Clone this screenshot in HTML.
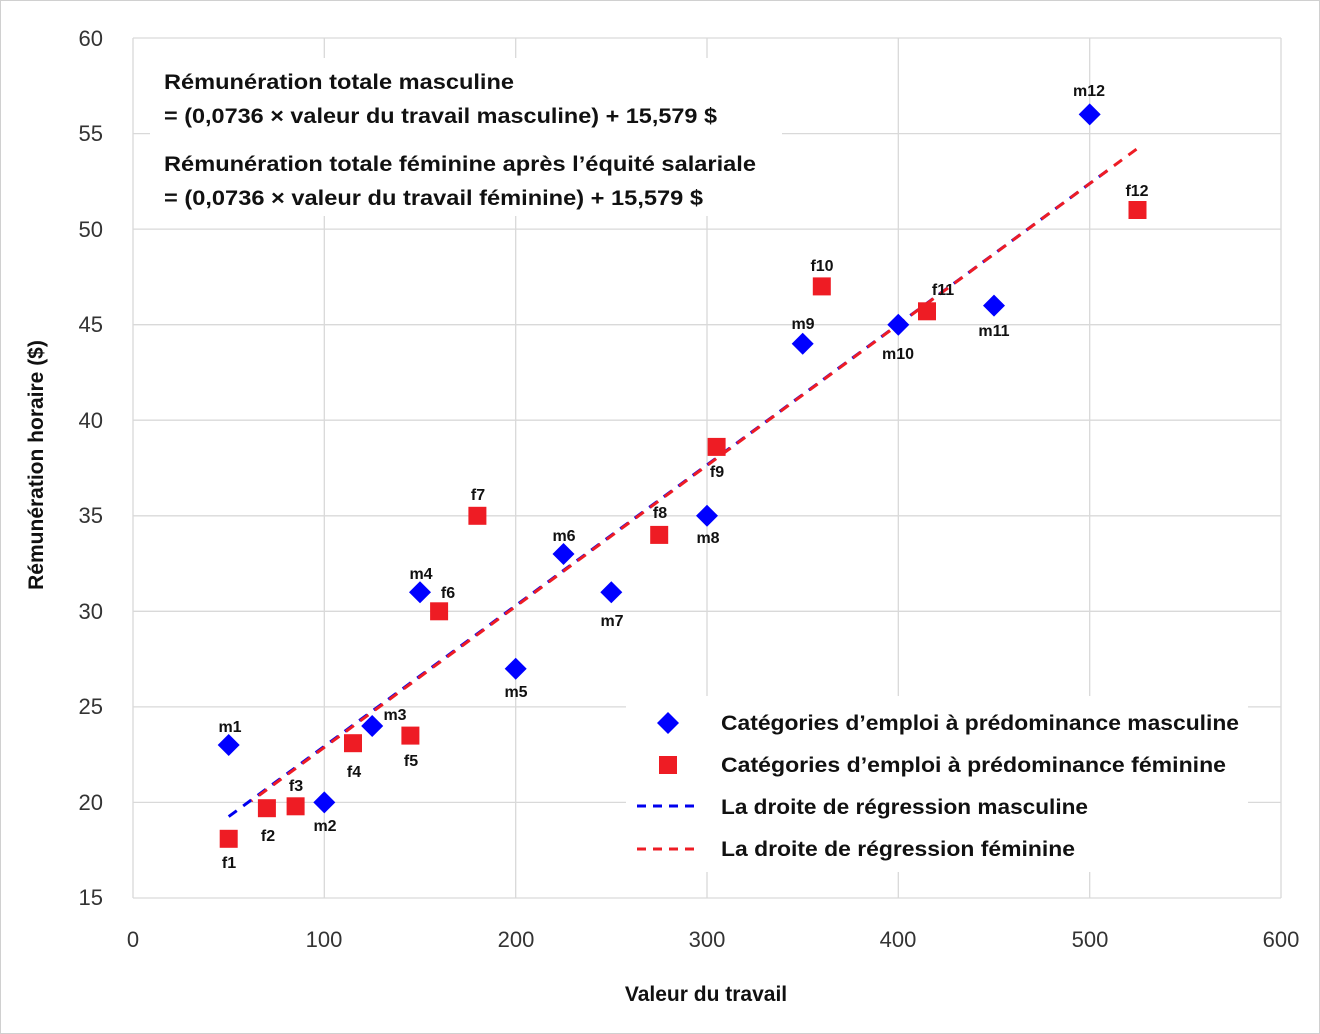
<!DOCTYPE html>
<html><head><meta charset="utf-8"><style>
html,body{margin:0;padding:0;background:#fff}
svg{display:block;font-family:"Liberation Sans",sans-serif}
</style></head><body>
<svg width="1320" height="1034" viewBox="0 0 1320 1034" xmlns="http://www.w3.org/2000/svg">
<rect x="0.5" y="0.5" width="1319" height="1033" fill="#fff" stroke="#d0d0d0"/>
<g stroke="#d9d9d9" stroke-width="1.3">
<line x1="133" y1="38" x2="1281" y2="38"/><line x1="133" y1="133.6" x2="1281" y2="133.6"/>
<line x1="133" y1="229.1" x2="1281" y2="229.1"/><line x1="133" y1="324.7" x2="1281" y2="324.7"/>
<line x1="133" y1="420.2" x2="1281" y2="420.2"/><line x1="133" y1="515.8" x2="1281" y2="515.8"/>
<line x1="133" y1="611.3" x2="1281" y2="611.3"/><line x1="133" y1="706.9" x2="1281" y2="706.9"/>
<line x1="133" y1="802.4" x2="1281" y2="802.4"/><line x1="133" y1="898" x2="1281" y2="898"/>
<line x1="324.3" y1="38" x2="324.3" y2="898"/><line x1="515.7" y1="38" x2="515.7" y2="898"/>
<line x1="707" y1="38" x2="707" y2="898"/><line x1="898.3" y1="38" x2="898.3" y2="898"/>
<line x1="1089.7" y1="38" x2="1089.7" y2="898"/><line x1="1281" y1="38" x2="1281" y2="898"/>
<line x1="133" y1="38" x2="133" y2="898"/>
</g>
<g fill="#333" font-size="22" text-anchor="end">
<text x="103" y="46">60</text><text x="103" y="141">55</text><text x="103" y="237">50</text>
<text x="103" y="332">45</text><text x="103" y="428">40</text><text x="103" y="523">35</text>
<text x="103" y="619">30</text><text x="103" y="714">25</text><text x="103" y="810">20</text>
<text x="103" y="905">15</text>
</g>
<g fill="#333" font-size="22" text-anchor="middle">
<text x="133" y="947">0</text><text x="324" y="947">100</text><text x="516" y="947">200</text>
<text x="707" y="947">300</text><text x="898" y="947">400</text><text x="1090" y="947">500</text>
<text x="1281" y="947">600</text>
</g>
<text x="706" y="1001" font-size="21" font-weight="bold" text-anchor="middle" fill="#111">Valeur du travail</text>
<text transform="translate(43,465) rotate(-90)" font-size="21" font-weight="bold" text-anchor="middle" fill="#111">Rémunération horaire ($)</text>
<rect x="150" y="58" width="632" height="158" fill="#fff"/>
<g font-size="21" font-weight="bold" fill="#111">
<text x="164" y="89" textLength="350" lengthAdjust="spacingAndGlyphs">Rémunération totale masculine</text>
<text x="164" y="123" textLength="553" lengthAdjust="spacingAndGlyphs">= (0,0736 × valeur du travail masculine) + 15,579 $</text>
<text x="164" y="171" textLength="592" lengthAdjust="spacingAndGlyphs">Rémunération totale féminine après l’équité salariale</text>
<text x="164" y="205" textLength="539" lengthAdjust="spacingAndGlyphs">= (0,0736 × valeur du travail féminine) + 15,579 $</text>
</g>
<line x1="228.7" y1="816.6" x2="1108.8" y2="169.5" stroke="#0000ee" stroke-width="3" stroke-dasharray="10,8"/>
<line x1="251.6" y1="800.9" x2="1137.5" y2="148.4" stroke="#ee1c24" stroke-width="3" stroke-dasharray="10,8" stroke-dashoffset="9"/>
<g fill="#0000ff">
<path d="M228.7 734l11 11-11 11-11-11z"/><path d="M324.3 791.4l11 11-11 11-11-11z"/>
<path d="M372.2 715l11 11-11 11-11-11z"/><path d="M420 581.2l11 11-11 11-11-11z"/>
<path d="M515.7 657.7l11 11-11 11-11-11z"/><path d="M563.5 543l11 11-11 11-11-11z"/>
<path d="M611.3 581.2l11 11-11 11-11-11z"/><path d="M707 504.8l11 11-11 11-11-11z"/>
<path d="M802.7 332.8l11 11-11 11-11-11z"/><path d="M898.3 313.7l11 11-11 11-11-11z"/>
<path d="M994 294.6l11 11-11 11-11-11z"/><path d="M1089.7 103.4l11 11-11 11-11-11z"/>
</g>
<g fill="#ee1c24">
<rect x="219.7" y="829.8" width="18" height="18"/><rect x="257.9" y="799.2" width="18" height="18"/>
<rect x="286.6" y="797.3" width="18" height="18"/><rect x="344" y="734.2" width="18" height="18"/>
<rect x="401.4" y="726.6" width="18" height="18"/><rect x="430.1" y="602.3" width="18" height="18"/>
<rect x="468.4" y="506.8" width="18" height="18"/><rect x="650.2" y="525.9" width="18" height="18"/>
<rect x="707.6" y="437.9" width="18" height="18"/><rect x="812.8" y="277.4" width="18" height="18"/>
<rect x="918" y="302.3" width="18" height="18"/><rect x="1128.5" y="201" width="18" height="18"/>
</g>
<g font-size="16" font-weight="bold" fill="#111" text-anchor="middle">
<text x="230" y="732">m1</text><text x="325" y="831">m2</text><text x="395" y="720">m3</text>
<text x="421" y="579">m4</text><text x="516" y="697">m5</text><text x="564" y="541">m6</text>
<text x="612" y="626">m7</text><text x="708" y="543">m8</text><text x="803" y="329">m9</text>
<text x="898" y="359">m10</text><text x="994" y="336">m11</text><text x="1089" y="96">m12</text>
<text x="229" y="868">f1</text><text x="268" y="841">f2</text><text x="296" y="791">f3</text>
<text x="354" y="777">f4</text><text x="411" y="766">f5</text><text x="448" y="598">f6</text>
<text x="478" y="500">f7</text><text x="660" y="518">f8</text><text x="717" y="477">f9</text>
<text x="822" y="271">f10</text><text x="943" y="295">f11</text><text x="1137" y="196">f12</text>
</g>
<rect x="626" y="696" width="622" height="176" fill="#fff"/>
<path d="M668 712l11 11-11 11-11-11z" fill="#0000ff"/>
<rect x="659" y="756" width="18" height="18" fill="#ee1c24"/>
<line x1="637" y1="806" x2="697" y2="806" stroke="#0000ee" stroke-width="3" stroke-dasharray="9,7"/>
<line x1="637" y1="849" x2="697" y2="849" stroke="#ee1c24" stroke-width="3" stroke-dasharray="9,7"/>
<g font-size="21" font-weight="bold" fill="#111">
<text x="721" y="730" textLength="518" lengthAdjust="spacingAndGlyphs">Catégories d’emploi à prédominance masculine</text>
<text x="721" y="772" textLength="505" lengthAdjust="spacingAndGlyphs">Catégories d’emploi à prédominance féminine</text>
<text x="721" y="814" textLength="367" lengthAdjust="spacingAndGlyphs">La droite de régression masculine</text>
<text x="721" y="856" textLength="354" lengthAdjust="spacingAndGlyphs">La droite de régression féminine</text>
</g>
</svg>
</body></html>
